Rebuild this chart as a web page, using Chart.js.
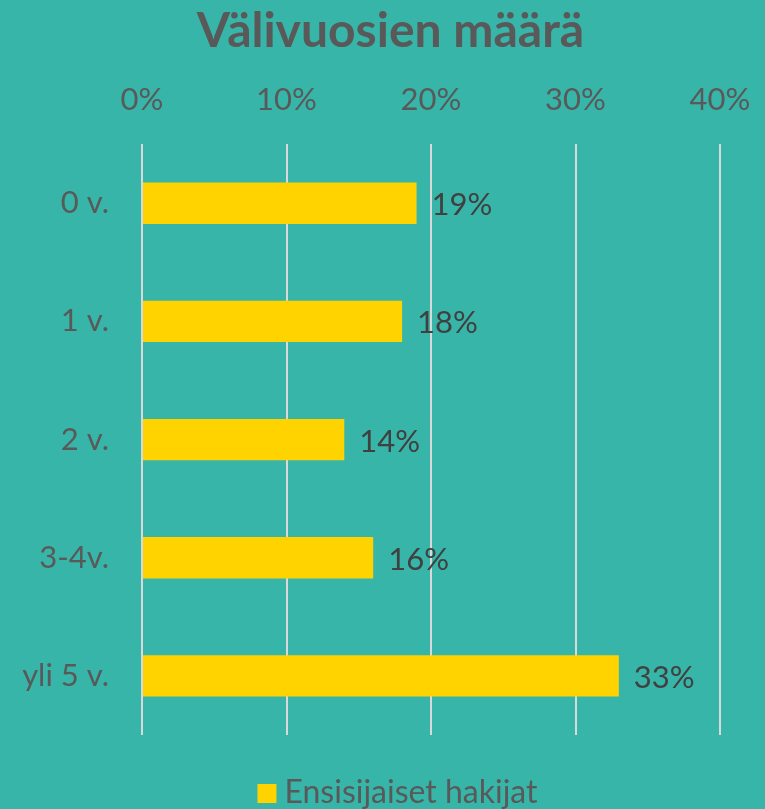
<!DOCTYPE html>
<html>
<head>
<meta charset="utf-8">
<script src="https://cdn.jsdelivr.net/npm/chart.js@4.4.1/dist/chart.umd.min.js"></script>
<style>
  html, body { margin: 0; padding: 0; background: #38b5a9; }
  #wrap { width: 765px; height: 809px; }
</style>
</head>
<body>
<div id="wrap"><canvas id="graphique"></canvas></div>
<script>
// Données du graphique
const categories = ['0 v.', '1 v.', '2 v.', '3-4v.', 'yli 5 v.'];
const ensisijaiset = [19, 18, 14, 16, 33];
const tickValeurs = [0, 10, 20, 30, 40];
const titre = 'Välivuosien määrä';
const serie = 'Ensisijaiset hakijat';

const police = 'Lato, "Open Sans", sans-serif';
const gris = '#595959';
const jaune = '#ffd300';

// Étiquettes de valeur à droite des barres
const etiquettes = {
  id: 'etiquettes',
  afterDatasetsDraw(chart) {
    const ctx = chart.ctx;
    ctx.save();
    ctx.font = `31px ${police}`;
    ctx.fillStyle = '#404040';
    ctx.textBaseline = 'middle';
    chart.getDatasetMeta(0).data.forEach((bar, i) => {
      ctx.fillText(`${ensisijaiset[i]}%`, bar.x + 15, bar.y + 2);
    });
    ctx.restore();
  }
};

// Titre et légende dessinés à la main (centrés comme dans Excel)
const titreLegende = {
  id: 'titreLegende',
  afterDraw(chart) {
    const ctx = chart.ctx;
    const milieu = chart.width / 2;
    ctx.save();
    ctx.fillStyle = gris;
    ctx.textBaseline = 'alphabetic';
    ctx.textAlign = 'center';
    ctx.font = `bold 48px ${police}`;
    ctx.fillText(titre, milieu + 8, 47);

    ctx.font = `32px ${police}`;
    ctx.textAlign = 'left';
    const largeur = 19 + 8 + ctx.measureText(serie).width;
    const x0 = milieu + 15 - largeur / 2;
    const bas = chart.chartArea.bottom;
    ctx.fillStyle = jaune;
    ctx.fillRect(x0, bas + 49, 19, 19);
    ctx.fillStyle = gris;
    ctx.fillText(serie, x0 + 27, bas + 68);
    ctx.restore();
  }
};

const ctx = document.getElementById('graphique').getContext('2d');
new Chart(ctx, {
  type: 'bar',
  data: {
    labels: categories,
    datasets: [{
      label: serie,
      data: ensisijaiset,
      backgroundColor: jaune,
      borderWidth: 0,
      categoryPercentage: 1,
      barPercentage: 0.35
    }]
  },
  options: {
    indexAxis: 'y',
    responsive: true,
    maintainAspectRatio: false,
    animation: false,
    layout: { padding: { top: 55, right: 45, bottom: 74, left: 10 } },
    plugins: {
      title: { display: false },
      legend: { display: false },
      tooltip: { enabled: false }
    },
    scales: {
      x: {
        position: 'top',
        min: 0,
        max: 40,
        afterBuildTicks: axis => { axis.ticks = tickValeurs.map(v => ({ value: v })); },
        afterFit: axis => { axis.paddingRight = 0; axis.paddingLeft = 0; },
        ticks: {
          color: gris,
          font: { family: police, size: 31 },
          padding: 26,
          callback: v => `${v}%`
        },
        grid: { color: '#d9d9d9', lineWidth: 2, drawTicks: false },
        border: { display: false }
      },
      y: {
        offset: true,
        afterFit: axis => { axis.width = 132; },
        ticks: {
          color: gris,
          font: { family: police, size: 31 },
          padding: 25
        },
        grid: { display: false },
        border: { display: false }
      }
    }
  },
  plugins: [etiquettes, titreLegende]
});
</script>
</body>
</html>
